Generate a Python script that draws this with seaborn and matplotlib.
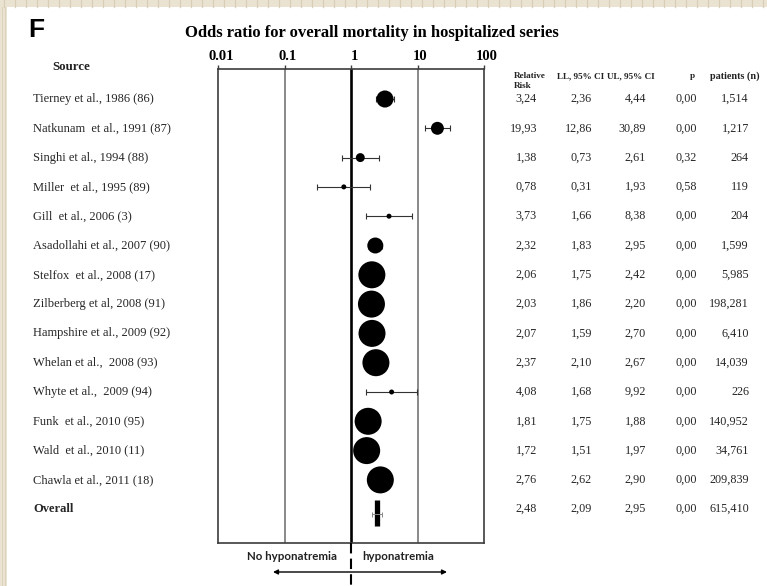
import numpy as np
import pandas as pd
import matplotlib
matplotlib.use("Agg")
import matplotlib.pyplot as plt
import seaborn as sns
from matplotlib.transforms import blended_transform_factory, ScaledTranslation
from matplotlib.patches import Rectangle
from matplotlib.lines import Line2D
from matplotlib.ticker import NullLocator, FixedLocator, FixedFormatter

# ---------------- data ----------------
sources = [
    "Tierney et al., 1986 (86)",
    "Natkunam  et al., 1991 (87)",
    "Singhi et al., 1994 (88)",
    "Miller  et al., 1995 (89)",
    "Gill  et al., 2006 (3)",
    "Asadollahi et al., 2007 (90)",
    "Stelfox  et al., 2008 (17)",
    "Zilberberg et al, 2008 (91)",
    "Hampshire et al., 2009 (92)",
    "Whelan et al.,  2008 (93)",
    "Whyte et al.,  2009 (94)",
    "Funk  et al., 2010 (95)",
    "Wald  et al., 2010 (11)",
    "Chawla et al., 2011 (18)",
]
rr = [3.24, 19.93, 1.38, 0.78, 3.73, 2.32, 2.06, 2.03, 2.07, 2.37, 4.08, 1.81, 1.72, 2.76]
ll = [2.36, 12.86, 0.73, 0.31, 1.66, 1.83, 1.75, 1.86, 1.59, 2.10, 1.68, 1.75, 1.51, 2.62]
ul = [4.44, 30.89, 2.61, 1.93, 8.38, 2.95, 2.42, 2.20, 2.70, 2.67, 9.92, 1.88, 1.97, 2.90]
pvals = [0.00, 0.00, 0.32, 0.58, 0.00, 0.00, 0.00, 0.00, 0.00, 0.00, 0.00, 0.00, 0.00, 0.00]
patients = ["1,514", "1,217", "264", "119", "204", "1,599", "5,985", "198,281",
            "6,410", "14,039", "226", "140,952", "34,761", "209,839"]
weights = [4.0, 2.3, 1.1, 0.35, 0.35, 3.5, 10, 10, 10, 10, 0.35, 10, 10, 10]

overall_label = "Overall"
overall_rr, overall_ll, overall_ul, overall_p, overall_n = 2.48, 2.09, 2.95, 0.00, "615,410"

x_ticks = [0.01, 0.1, 1, 10, 100]
x_ticklabels = ["0.01", "0.1", "1", "10", "100"]
col_headers = ["LL, 95% CI", "UL, 95% CI", "p", "patients (n)"]

title = "Odds ratio for overall mortality in hospitalized series"

df = pd.DataFrame({"source": sources, "rr": rr, "ll": ll, "ul": ul,
                   "p": pvals, "n": patients, "w": weights})
df["row"] = np.arange(len(df))
overall_row = len(df)

def cfmt(v):
    return f"{v:.2f}".replace(".", ",")

# ---------------- figure ----------------
W, H = 767, 586
def fx(px): return px / W
def fy(py): return 1 - py / H

SERIF = ["Liberation Serif", "DejaVu Serif"]
plt.rcParams["font.family"] = SERIF

fig = plt.figure(figsize=(W / 100, H / 100), dpi=100, facecolor="#ebe3d2")
# white panel
fig.patches.append(Rectangle((fx(7), 0), 1 - fx(7), fy(7), transform=fig.transFigure,
                             facecolor="white", edgecolor="none", zorder=-5))
# subtle stripes of the beige frame
for xs in range(4, W, 11):
    fig.add_artist(Line2D([fx(xs), fx(xs)], [fy(0), fy(7)], color="#d9cfb8", lw=0.9, zorder=-4))
for xs in (2, 5):
    fig.add_artist(Line2D([fx(xs), fx(xs)], [0, fy(7)], color="#ddd3bd", lw=0.7, zorder=-4))

row_px0, row_step = 99, 29.3
box_top, box_bot = 69, 543
ax = fig.add_axes([fx(218), fy(box_bot), fx(484) - fx(218), (box_bot - box_top) / H])
ax.set_facecolor("none")
ax.set_xscale("log")
ax.set_xlim(0.01, 100)
ax.set_ylim((box_bot - row_px0) / row_step, (box_top - row_px0) / row_step)

# reference lines
ax.axvline(0.1, color="#6a6a6a", lw=1.1, zorder=1)
ax.axvline(10, color="#6a6a6a", lw=1.1, zorder=1)
ax.axvline(1, color="black", lw=1.9, zorder=1)

# confidence intervals
ax.errorbar(df["rr"], df["row"], xerr=[df["rr"] - df["ll"], df["ul"] - df["rr"]],
            fmt="none", ecolor="#333333", elinewidth=0.8, capsize=2.5, capthick=0.8, zorder=2)

# study estimates (area ~ weight)
sns.scatterplot(data=df, x="rr", y="row", size="w", sizes=(13, 378), color="black",
                linewidth=0, legend=False, ax=ax, zorder=3)

# overall estimate
ax.vlines(overall_rr, overall_row - 0.32, overall_row + 0.58, color="black", lw=3.8, zorder=3)
ax.errorbar([overall_rr], [overall_row + 0.15],
            xerr=[[overall_rr - overall_ll], [overall_ul - overall_rr]],
            fmt="none", ecolor="#888888", elinewidth=0.7, capsize=1.8, capthick=0.7, zorder=4)

# axes styling
for s in ax.spines.values():
    s.set_color("#3c3c3c")
    s.set_linewidth(1.2)
ax.set_yticks([])
ax.set_xlabel("")
ax.set_ylabel("")
ax.xaxis.tick_top()
ax.xaxis.set_major_locator(FixedLocator(x_ticks))
ax.xaxis.set_major_formatter(FixedFormatter(x_ticklabels))
ax.xaxis.set_minor_locator(NullLocator())
ax.tick_params(axis="x", which="major", length=3, width=1, pad=1.5, color="#3c3c3c",
               labelsize=10.5, labelcolor="black")
shift = ScaledTranslation(3 / 100, 0, fig.dpi_scale_trans)
for lab in ax.get_xticklabels():
    lab.set_fontweight("bold")
    lab.set_transform(lab.get_transform() + shift)

# dashed continuation of the null line below the box
ax.plot([1, 1], [0, -(H - box_bot) / (box_bot - box_top)], transform=ax.get_xaxis_transform(),
        color="black", lw=1.5, ls=(0, (5, 2.5)), clip_on=False, zorder=5)

# direction labels + arrow
fig.text(fx(337), fy(556), "No hyponatremia", ha="right", va="center", fontsize=8.3,
         fontweight="bold", family=["Lato", "DejaVu Sans"], color="#222222")
fig.text(fx(362), fy(556), "hyponatremia", ha="left", va="center", fontsize=8.3,
         fontweight="bold", family=["Lato", "DejaVu Sans"], color="#222222")
ax.annotate("", xy=(fx(273), fy(572)), xytext=(fx(447), fy(572)), xycoords="figure fraction",
            textcoords="figure fraction",
            arrowprops=dict(arrowstyle="<|-|>", color="black", lw=1.0, mutation_scale=7,
                            shrinkA=0, shrinkB=0))

# titles
fig.text(fx(28), fy(30), "F", ha="left", va="center", fontsize=19, fontweight="bold",
         family=["Liberation Sans", "DejaVu Sans"])
fig.text(fx(372), fy(33), title, ha="center", va="center", fontsize=12, fontweight="bold")
fig.text(fx(71), fy(67), "Source", ha="center", va="center", fontsize=9.3, fontweight="bold",
         color="#222222")

# column headers
hdr_kw = dict(fontsize=6.6, fontweight="bold", va="center", color="#222222")
fig.text(fx(514), fy(76), "Relative", ha="left", **hdr_kw)
fig.text(fx(514), fy(86), "Risk", ha="left", **hdr_kw)
fig.text(fx(557), fy(76), col_headers[0], ha="left", **hdr_kw)
fig.text(fx(607), fy(76), col_headers[1], ha="left", **hdr_kw)
fig.text(fx(692), fy(76), col_headers[2], ha="center", **hdr_kw)
fig.text(fx(710), fy(76), col_headers[3], ha="left", fontsize=7.3, fontweight="bold",
         va="center", color="#222222")

# table rows
tr = blended_transform_factory(fig.transFigure, ax.transData)
txt_kw = dict(fontsize=8.7, color="#262626", va="center", transform=tr)
for _, r in df.iterrows():
    y = r["row"]
    fig.text(fx(33), y, r["source"], ha="left", fontsize=9, color="#262626", va="center", transform=tr)
    fig.text(fx(537), y, cfmt(r["rr"]), ha="right", **txt_kw)
    fig.text(fx(592), y, cfmt(r["ll"]), ha="right", **txt_kw)
    fig.text(fx(646), y, cfmt(r["ul"]), ha="right", **txt_kw)
    fig.text(fx(697), y, cfmt(r["p"]), ha="right", **txt_kw)
    fig.text(fx(749), y, r["n"], ha="right", **txt_kw)

fig.text(fx(33), overall_row, overall_label, ha="left", fontsize=9, fontweight="bold",
         color="#262626", va="center", transform=tr)
fig.text(fx(537), overall_row, cfmt(overall_rr), ha="right", **txt_kw)
fig.text(fx(592), overall_row, cfmt(overall_ll), ha="right", **txt_kw)
fig.text(fx(646), overall_row, cfmt(overall_ul), ha="right", **txt_kw)
fig.text(fx(697), overall_row, cfmt(overall_p), ha="right", **txt_kw)
fig.text(fx(749), overall_row, overall_n, ha="right", **txt_kw)

fig.savefig("out.png", dpi=100, facecolor=fig.get_facecolor())
